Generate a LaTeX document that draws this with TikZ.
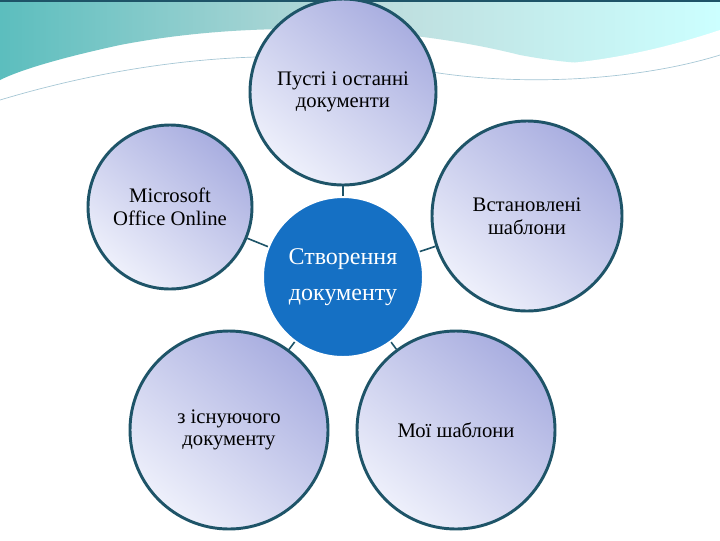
\documentclass[tikz,border=0pt]{standalone}
\usepackage{fontspec}
\setmainfont{Liberation Serif}
\begin{document}
\begin{tikzpicture}[x=0.75pt,y=-0.75pt,
  outer/.style={circle,draw=ring,line width=2.2pt,inner sep=0pt,minimum size=#1*0.75pt,
    shading=axis,top color=lav,bottom color=lavw,shading angle=-40,align=center,font=\fontsize{15.5}{17}\selectfont},
  link/.style={draw=ring,line width=1.2pt}]
\definecolor{ring}{HTML}{1E5468}
\definecolor{lav}{HTML}{A9AEE0}
\definecolor{lavw}{HTML}{EEF0FB}
\definecolor{cblue}{HTML}{1570C4}
\useasboundingbox (0,0) rectangle (720,540);
\fill[white] (0,0) rectangle (720,540);
% top decoration
\shade[left color=cyan!60!teal!60!gray!80,right color=cyan!20,middle color=cyan!30!gray!40]
  (0,0) -- (720,0) -- (720,45) .. controls (650,65) and (600,70) .. (520,55)
  .. controls (400,25) and (250,20) .. (120,45) .. controls (60,58) and (20,70) .. (0,80) -- cycle;
\fill[white] (0,95) .. controls (100,50) and (250,30) .. (380,40) .. controls (460,48) and (520,70) .. (580,62)
  .. controls (640,55) and (690,40) .. (720,30) -- (720,70) .. controls (650,90) and (500,90) .. (420,75)
  .. controls (300,55) and (150,60) .. (0,105) -- cycle;
\draw[cyan!40!gray!60,line width=0.5pt] (0,100) .. controls (150,55) and (300,45) .. (420,70) .. controls (520,88) and (640,80) .. (720,55);
\draw[ring,line width=1.5pt] (0,0.5) -- (720,0.5);
\node[outer=186] (t) at (343,92) {Пусті і останні\\документи};
\node[outer=164] (l) at (170,207) {Microsoft\\Office Online};
\node[outer=190] (r) at (527,216) {Встановлені\\шаблони};
\node[outer=198] (bl) at (229,430) {з існуючого\\документу};
\node[outer=198] (br) at (456,430) {Мої шаблони};
\node[circle,fill=cblue,draw=white,line width=1.5pt,minimum size=160*0.75pt,inner sep=0pt,text=white,align=center,
  font=\fontsize{18}{27}\selectfont] (c) at (343,277) {Створення\\документу};
\foreach \n in {t,l,r,bl,br} \draw[link] (c) -- (\n);
\end{tikzpicture}
\end{document}
